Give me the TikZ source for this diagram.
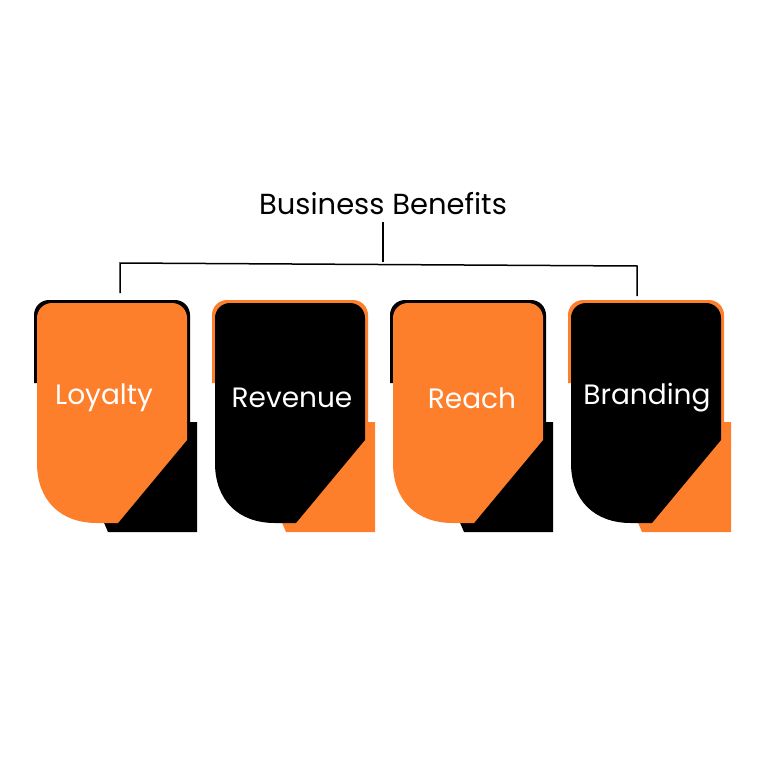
\documentclass[tikz,border=0pt]{standalone}
\usepackage{fontspec}
\setmainfont{Poppins}
\definecolor{org}{HTML}{FD7F2C}
\begin{document}
\begin{tikzpicture}[x=1pt,y=-1pt,
  lbl/.style={text=white,font=\fontsize{28}{30}\selectfont}]
\useasboundingbox (0,0) rectangle (768,768);
\newcommand{\card}[5]{%
 \begin{scope}[xshift=#1]
  \fill[#3] (34,383) -- (34,315) arc[start angle=180,end angle=270,radius=15] -- (175,300) arc[start angle=-90,end angle=0,radius=15] -- (190,422) -- (197,422) -- (197,532) -- (108,532) -- (90,490) -- (37,383) -- cycle;
  \fill[#2] (37,318) arc[start angle=180,end angle=270,radius=15] -- (172,303) arc[start angle=-90,end angle=0,radius=15] -- (187,440) -- (118,523) -- (97,523) .. controls (60,523) and (37,500) .. (37,463) -- cycle;
  \node[lbl] (t#4) at (#5,398) {#4};
 \end{scope}}
\card{0}{org}{black}{Loyalty}{104}
\card{178}{black}{org}{Revenue}{114}
\card{356}{org}{black}{Reach}{116}
\card{534}{black}{org}{Branding}{113}
\node[font=\fontsize{29}{32}\selectfont] (title) at (383,204) {Business Benefits};
\coordinate (top) at (383,262);
\coordinate (l) at (120,263);
\coordinate (r) at (637,266);
\coordinate (lb) at (120,293);
\coordinate (rb) at (637,296);
\draw[line width=1.5pt] (383,222) -- (top);
\draw[line width=1.5pt] (lb) -- (l) -- (r) -- (rb);
\end{tikzpicture}
\end{document}
